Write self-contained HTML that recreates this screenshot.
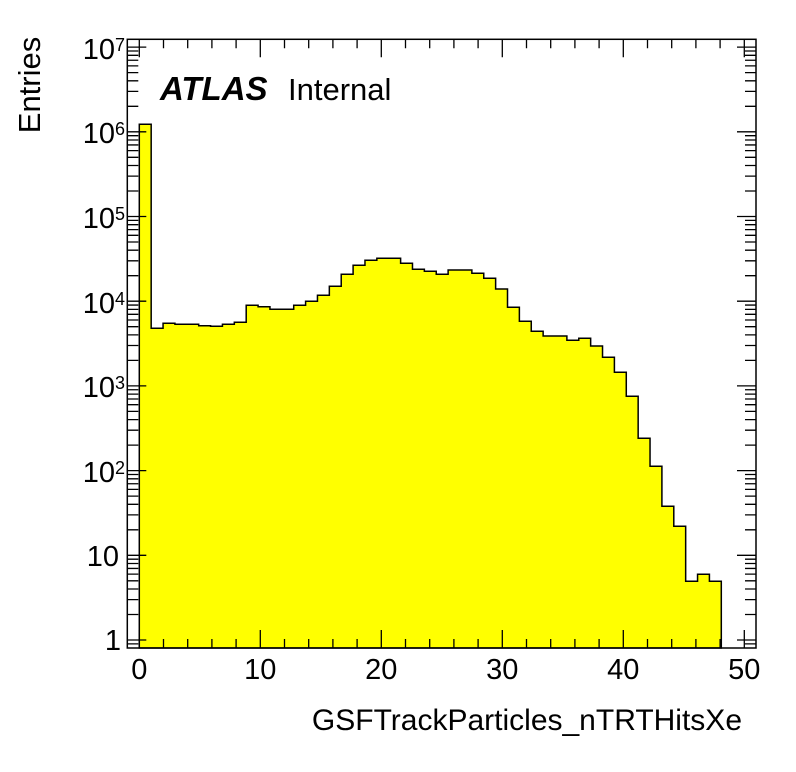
<!DOCTYPE html>
<html><head><meta charset="utf-8"><style>html,body{margin:0;padding:0;background:#fff}svg{display:block}text{font-family:"Liberation Sans",Arial,sans-serif;fill:#000}</style></head><body>
<svg width="796" height="772" viewBox="0 0 796 772" xmlns="http://www.w3.org/2000/svg">
<rect width="796" height="772" fill="#fff"/>
<path d="M139.3,648 V124.3 H151.18 V328.3 H163.06 V323.3 H174.93 V324.3 H198.69 V325.7 H210.57 V326.3 H222.44 V324.3 H234.32 V322.3 H246.2 V305.3 H258.08 V306.7 H269.95 V309.3 H293.71 V305.3 H305.59 V301.3 H317.46 V295.3 H329.34 V286.3 H341.22 V274.3 H353.1 V265.3 H364.97 V260.3 H376.85 V258.3 H400.61 V263.3 H412.48 V269.3 H424.36 V271.3 H436.24 V274.3 H448.12 V270 H471.87 V273.3 H483.75 V278.3 H495.63 V289 H507.51 V307.3 H519.38 V321.3 H531.26 V331.3 H543.14 V336 H566.89 V340.3 H578.77 V338.3 H590.65 V346 H602.53 V357.3 H614.4 V372.3 H626.28 V396.3 H638.16 V438.3 H650.04 V466.3 H661.91 V506.3 H673.79 V526.3 H685.67 V581.3 H697.55 V574.3 H709.42 V581.3 H721.3 V648 Z" fill="#ffff00" stroke="#000" stroke-width="1.5"/>
<g stroke="#000" stroke-width="1.3" fill="none">
<path id="xt" d="M139.3,648v-18 M163.5,648v-9 M187.7,648v-9 M211.9,648v-9 M236.1,648v-9 M260.3,648v-18 M284.5,648v-9 M308.7,648v-9 M332.9,648v-9 M357.1,648v-9 M381.3,648v-18 M405.5,648v-9 M429.7,648v-9 M453.9,648v-9 M478.1,648v-9 M502.3,648v-18 M526.5,648v-9 M550.7,648v-9 M574.9,648v-9 M599.1,648v-9 M623.3,648v-18 M647.5,648v-9 M671.7,648v-9 M695.9,648v-9 M720.1,648v-9 M744.3,648v-18"/>
<use href="#xt" transform="translate(0,687.3) scale(1,-1)"/>
<path id="yt" d="M127.3,640h19 M127.3,643.9h11
M127.3,614.5h11 M127.3,599.59h11 M127.3,589.01h11 M127.3,580.8h11 M127.3,574.09h11 M127.3,568.42h11 M127.3,563.51h11 M127.3,559.18h11
M127.3,555.3h19 M127.3,529.8h11 M127.3,514.89h11 M127.3,504.31h11 M127.3,496.1h11 M127.3,489.39h11 M127.3,483.72h11 M127.3,478.81h11 M127.3,474.48h11
M127.3,470.6h19 M127.3,445.1h11 M127.3,430.19h11 M127.3,419.61h11 M127.3,411.4h11 M127.3,404.69h11 M127.3,399.02h11 M127.3,394.11h11 M127.3,389.78h11
M127.3,385.9h19 M127.3,360.4h11 M127.3,345.49h11 M127.3,334.91h11 M127.3,326.7h11 M127.3,319.99h11 M127.3,314.32h11 M127.3,309.41h11 M127.3,305.08h11
M127.3,301.2h19 M127.3,275.7h11 M127.3,260.79h11 M127.3,250.21h11 M127.3,242h11 M127.3,235.29h11 M127.3,229.62h11 M127.3,224.71h11 M127.3,220.38h11
M127.3,216.5h19 M127.3,191h11 M127.3,176.09h11 M127.3,165.51h11 M127.3,157.3h11 M127.3,150.59h11 M127.3,144.92h11 M127.3,140.01h11 M127.3,135.68h11
M127.3,131.8h19 M127.3,106.3h11 M127.3,91.39h11 M127.3,80.81h11 M127.3,72.6h11 M127.3,65.89h11 M127.3,60.22h11 M127.3,55.31h11 M127.3,50.98h11
M127.3,47.1h19"/>
<use href="#yt" transform="translate(883.3,0) scale(-1,1)"/>
</g>
<rect x="127.3" y="39.3" width="628.7" height="608.7" fill="none" stroke="#000" stroke-width="1.5"/>
<g font-size="29" text-anchor="middle">
<text x="139.3" y="679">0</text><text x="260.3" y="679">10</text><text x="381.3" y="679">20</text><text x="502.3" y="679">30</text><text x="623.3" y="679">40</text><text x="744.3" y="679">50</text>
</g>
<g font-size="29" text-anchor="end">
<text x="121" y="650">1</text>
<text x="119" y="566">10</text>
<text x="115" y="482">10</text>
<text x="115" y="397">10</text>
<text x="115" y="313">10</text>
<text x="115" y="228">10</text>
<text x="115" y="143">10</text>
<text x="115" y="59">10</text>
</g>
<g font-size="18">
<text x="115" y="474">2</text>
<text x="115" y="389">3</text>
<text x="115" y="305">4</text>
<text x="115" y="220">5</text>
<text x="115" y="135">6</text>
<text x="115" y="51">7</text>
</g>
<text x="742" y="730" font-size="30" text-anchor="end">GSFTrackParticles_nTRTHitsXe</text>
<text transform="translate(40,85) rotate(-90)" font-size="31" text-anchor="middle">Entries</text>
<text x="160" y="100" font-size="33" font-weight="bold" font-style="italic">ATLAS</text>
<text x="288" y="100" font-size="31">Internal</text>
</svg>
</body></html>
